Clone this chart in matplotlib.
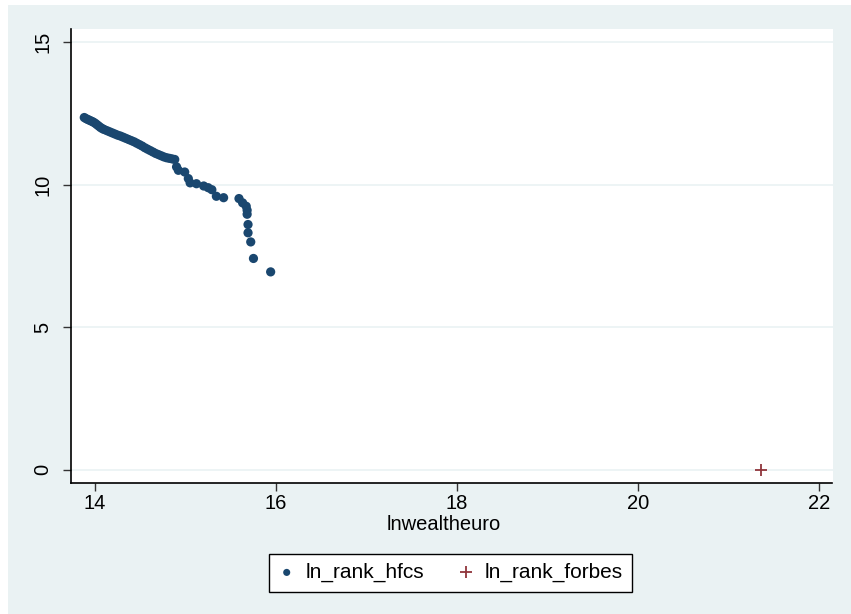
import matplotlib
matplotlib.use("Agg")
import matplotlib.pyplot as plt
from matplotlib.patches import Rectangle

# Data
hfcs_x = [13.88, 13.90, 13.92, 13.94, 13.96, 13.98, 14.00, 14.02, 14.04, 14.06,
          14.08, 14.10, 14.13, 14.16, 14.19, 14.22, 14.25, 14.28, 14.31, 14.34,
          14.37, 14.40, 14.43, 14.46, 14.49, 14.52, 14.55, 14.58, 14.61, 14.64,
          14.67, 14.70, 14.73, 14.76, 14.79, 14.82, 14.85, 14.88,
          14.90, 14.92, 14.99, 15.03, 15.05, 15.12, 15.20, 15.25, 15.29,
          15.34, 15.42, 15.59, 15.63, 15.67, 15.68, 15.68, 15.69, 15.69,
          15.72, 15.75, 15.94]
hfcs_y = [12.35, 12.31, 12.28, 12.25, 12.22, 12.19, 12.15, 12.10, 12.05, 12.00,
          11.96, 11.93, 11.89, 11.85, 11.81, 11.77, 11.73, 11.70, 11.66, 11.62,
          11.58, 11.54, 11.50, 11.45, 11.40, 11.35, 11.29, 11.24, 11.19, 11.14,
          11.09, 11.05, 11.01, 10.97, 10.94, 10.92, 10.90, 10.88,
          10.62, 10.50, 10.44, 10.21, 10.06, 10.03, 9.95, 9.89, 9.82,
          9.59, 9.54, 9.51, 9.36, 9.24, 9.10, 8.96, 8.60, 8.31,
          7.99, 7.41, 6.94]
forbes_x = [21.36]
forbes_y = [0.0]

x_ticks = [14, 16, 18, 20, 22]
y_ticks = [0, 5, 10, 15]

BG = "#EAF2F3"
BLUE = "#1A476F"
RED = "#90353B"

plt.rcParams['font.family'] = ['Liberation Sans', 'DejaVu Sans']

W, H = 851, 614
fig = plt.figure(figsize=(W / 100, H / 100), dpi=100, facecolor="white")
fig.patches.append(Rectangle((8 / W, 0), 1 - 8 / W, 1 - 5 / H,
                             transform=fig.transFigure, facecolor=BG,
                             edgecolor="none", zorder=-10))

left, right = 70.7 / W, 832.5 / W
bottom, top = 1 - 483.3 / H, 1 - 28.5 / H
ax = fig.add_axes([left, bottom, right - left, top - bottom])
ax.set_facecolor("white")

ax.set_xlim(13.73, 22.15)
ax.set_ylim(-0.47, 15.47)

for yv in y_ticks:
    ax.axhline(yv, color=BG, lw=1.2, zorder=0)

ax.scatter(hfcs_x, hfcs_y, s=44, color=BLUE, edgecolors="none", zorder=3,
           label="ln_rank_hfcs")
ax.scatter(forbes_x, forbes_y, s=80, marker="+", color=RED, linewidths=1.3,
           zorder=3, label="ln_rank_forbes")

ax.set_xticks(x_ticks)
ax.set_yticks(y_ticks)
ax.tick_params(axis="both", direction="out", length=6, width=1,
               color="#333333", labelsize=14.5, labelcolor="black")
ax.tick_params(axis="y", pad=7)
ax.tick_params(axis="x", pad=2)
for lab in ax.get_yticklabels():
    lab.set_rotation(90)
    lab.set_va("center")

for side in ["top", "right"]:
    ax.spines[side].set_visible(False)
for side in ["left", "bottom"]:
    ax.spines[side].set_color("black")
    ax.spines[side].set_linewidth(1.2)

ax.set_xlabel("lnwealtheuro", fontsize=14.5)
ax.xaxis.set_label_coords((443.5 - 70.7) / (832.5 - 70.7),
                          (483.3 - 524) / (483.3 - 28.5))
ax.xaxis.label.set_va("center")

leg = fig.legend(loc="center", bbox_to_anchor=(450.5 / W, 1 - 572.5 / H),
                 ncol=2, fontsize=15, frameon=True, fancybox=False,
                 edgecolor="black", facecolor="white", framealpha=1,
                 handlelength=0.8, handletextpad=0.5, columnspacing=1.6,
                 borderpad=0.45, markerscale=1.0)
leg.get_frame().set_linewidth(1.0)
hs = leg.legend_handles
hs[0].set_sizes([26])
hs[1].set_sizes([80])

fig.savefig("out.png", dpi=100, facecolor=fig.get_facecolor())
